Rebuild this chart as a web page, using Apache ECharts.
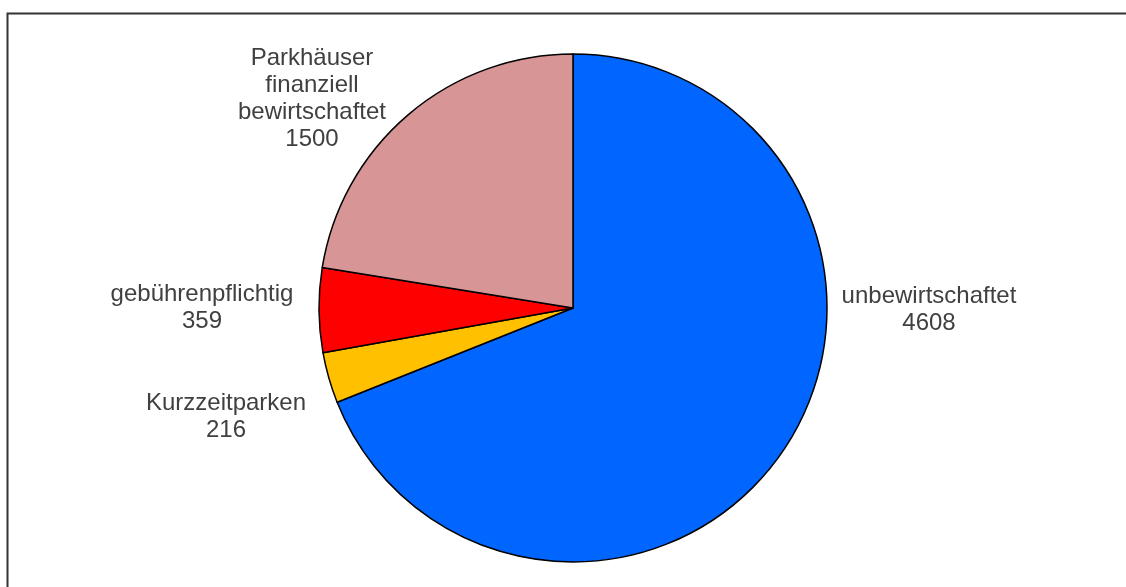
<!DOCTYPE html>
<html lang="de">
<head>
<meta charset="UTF-8">
<title>Parkplätze</title>
<style>
  html, body { margin: 0; padding: 0; background: #fff; }
  #chart { width: 1126px; height: 587px; }
</style>
</head>
<body>
<div id="chart"></div>
<script src="https://cdn.jsdelivr.net/npm/echarts@6/dist/echarts.min.js"></script>
<script>
// Kategorien und Werte
var names = ['unbewirtschaftet', 'Kurzzeitparken', 'gebührenpflichtig', 'Parkhäuser\nfinanziell\nbewirtschaftet'];
var values = [4608, 216, 359, 1500];
var colors = ['#0066ff', '#ffc000', '#ff0000', '#d79695'];

// Label-Mittelpunkte (wie im Original, ohne Linien)
var labelPos = [[929, 310], [226, 417], [202, 308], [312, 99]];

var chart = echarts.init(document.getElementById('chart'));

var pieData = names.map(function (n, i) {
  return { name: n, value: values[i], itemStyle: { color: colors[i] } };
});

var option = {
  animation: false,
  backgroundColor: '#fff',
  graphic: [{
    type: 'rect',
    shape: { x: 7.5, y: 13.5, width: 1140, height: 600 },
    style: { fill: 'none', stroke: '#333', lineWidth: 2 },
    silent: true
  }],
  series: [{
    type: 'pie',
    center: [573, 308],
    radius: 254,
    startAngle: 90,
    clockwise: true,
    itemStyle: { borderColor: '#000', borderWidth: 1.5 },
    label: {
      show: true,
      position: 'outside',
      formatter: '{b}\n{c}',
      fontFamily: 'Liberation Sans, Arial, sans-serif',
      fontSize: 24,
      lineHeight: 27,
      color: '#404040',
      align: 'center'
    },
    labelLine: { show: false },
    labelLayout: function (p) {
      var pos = labelPos[p.dataIndex];
      return { x: pos[0], y: pos[1], align: 'center', verticalAlign: 'middle' };
    },
    data: pieData
  }]
};

chart.setOption(option);
</script>
</body>
</html>
